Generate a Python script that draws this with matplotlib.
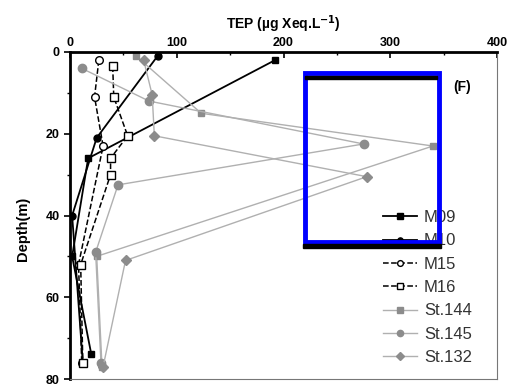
import matplotlib
matplotlib.use("Agg")
import matplotlib.pyplot as plt
from matplotlib.patches import Rectangle

plt.rcParams['font.family'] = ['Liberation Sans', 'DejaVu Sans']

# depth (m) and TEP (ug Xeq/L) per station
m09_depth = [2, 26, 50, 74]
m09_tep = [192, 17, 2, 20]
m10_depth = [1, 21, 40, 76]
m10_tep = [82, 25, 2, 12]
m15_depth = [2, 11, 23, 52, 76]
m15_tep = [27, 23, 31, 8, 11]
m16_depth = [3.5, 11, 20.5, 26, 30, 52, 76]
m16_tep = [40, 41, 54, 38, 38, 10, 12]
st144_depth = [1, 15, 23, 50, 77]
st144_tep = [62, 123, 340, 25, 30]
st145_depth = [4, 12, 22.5, 32.5, 49, 76]
st145_tep = [11, 74, 275, 45, 24, 29]
st132_depth = [2, 10.5, 20.5, 30.5, 51, 77]
st132_tep = [69, 77, 79, 278, 52, 31]

fig = plt.figure(figsize=(5.08, 3.84), dpi=100)
ax = fig.add_axes([70/508, 1-379/384, 427/508, 327/384])

ax.plot(m09_tep, m09_depth, '-s', color='black', ms=5, lw=1.3, label='M09')
ax.plot(m10_tep, m10_depth, '-o', color='black', ms=5, lw=1.3, label='M10')
ax.plot(m15_tep, m15_depth, '--o', color='black', mfc='white', ms=5.5, lw=1.1, label='M15')
ax.plot(m16_tep, m16_depth, '--s', color='black', mfc='white', ms=5.5, lw=1.1, label='M16')
ax.plot(st144_tep, st144_depth, '-s', color='#b0b0b0', mfc='#8c8c8c', mec='#8c8c8c', ms=5, lw=1, label='St.144')
ax.plot(st145_tep, st145_depth, '-o', color='#b0b0b0', mfc='#8c8c8c', mec='#8c8c8c', ms=6, lw=1, label='St.145')
ax.plot(st132_tep, st132_depth, '-D', color='#b0b0b0', mfc='#8c8c8c', mec='#8c8c8c', ms=5, lw=1, label='St.132')

ax.set_xlim(0, 400)
ax.set_ylim(80, 0)
ax.set_xticks([0, 100, 200, 300, 400])
ax.set_xticks([50, 150, 250, 350], minor=True)
ax.set_yticks([0, 20, 40, 60, 80])
ax.set_yticks([10, 30, 50, 70], minor=True)
ax.xaxis.tick_top()
ax.xaxis.set_label_position('top')
ax.tick_params(axis='x', which='both', direction='in', labelsize=9, pad=2)
ax.tick_params(axis='y', which='both', direction='out', labelsize=9)
ax.tick_params(which='major', length=4, width=1.2)
ax.tick_params(which='minor', length=2.5, width=1)
for lab in ax.get_xticklabels() + ax.get_yticklabels():
    lab.set_fontweight('bold')
ax.set_xlabel('TEP (\u00b5g Xeq.L$^{\\mathbf{-1}}$)', fontsize=10, fontweight='bold', labelpad=6)
ax.set_ylabel('Depth(m)', fontsize=10.5, fontweight='bold')
ax.yaxis.set_label_coords(-0.094, 0.46)

ax.spines['top'].set_linewidth(2)
ax.spines['left'].set_linewidth(2)
ax.spines['right'].set_color('#777777')
ax.spines['bottom'].set_color('#777777')

leg = ax.legend(loc='upper left', bbox_to_anchor=(0.714, 0.542), frameon=False, borderpad=0,
                fontsize=12, labelspacing=0.5, handlelength=2.0, handletextpad=0.45,
                markerscale=0.75)
for t in leg.get_texts():
    t.set_color('#333333')

fig.text(453/508, 1-87/384, '(F)', fontsize=10, fontweight='bold', ha='left', va='center')

# overlay box
fig.patches.append(Rectangle((305/508, 1-242/384), 134/508, 169/384, transform=fig.transFigure,
                             fill=False, edgecolor='#0000ff', lw=3.5, zorder=10))
fig.patches.append(Rectangle((305/508, 1-79/384), 132/508, 3/384, transform=fig.transFigure,
                             color='black', zorder=11))
fig.patches.append(Rectangle((303/508, 1-248/384), 138/508, 4/384, transform=fig.transFigure,
                             color='black', zorder=11))

fig.savefig('out.png', dpi=100)
